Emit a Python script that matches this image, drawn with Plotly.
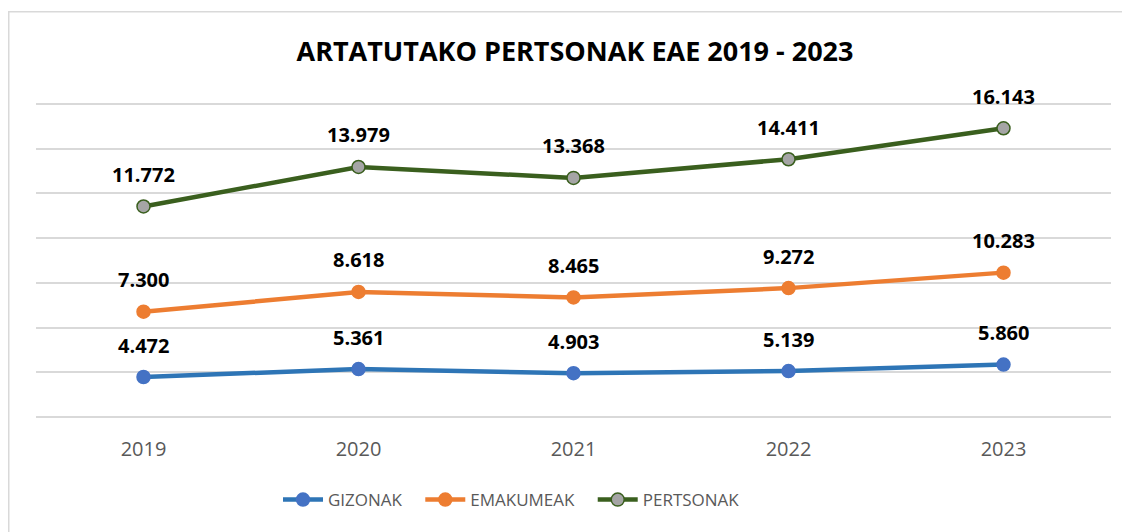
import plotly.graph_objects as go
import numpy as np

years = ["2019", "2020", "2021", "2022", "2023"]
gizonak = [4472, 5361, 4903, 5139, 5860]
emakumeak = [7300, 8618, 8465, 9272, 10283]
pertsonak = [11772, 13979, 13368, 14411, 16143]

series = [
    ("GIZONAK", gizonak, "#2E75B6", "#4472C4", "#4472C4"),
    ("EMAKUMEAK", emakumeak, "#ED7D31", "#ED7D31", "#ED7D31"),
    ("PERTSONAK", pertsonak, "#3A5F1E", "#A5A5A5", "#3A5F1E"),
]

def fmt(v):
    return f"{v:,}".replace(",", ".")

NB = "\u00a0" * 3

fig = go.Figure()
cum = np.zeros(len(years))
annotations = []
for name, vals, lc, mfill, mline in series:
    fig.add_trace(go.Scatter(
        x=years, y=vals, name=name + NB, mode="lines+markers",
        stackgroup="one", fill="none",
        line=dict(color=lc, width=4.5),
        marker=dict(size=13, color=mfill, line=dict(color=mline, width=1.5)),
    ))
    cum = cum + np.array(vals)
    for i, (yv, v) in enumerate(zip(cum, vals)):
        annotations.append(dict(
            x=i, y=float(yv), xref="x", yref="y", text="<b>" + fmt(v) + "</b>",
            showarrow=False, yshift=32, yanchor="middle",
            font=dict(family="Open Sans", size=20, color="#000000"),
        ))

# the page places the figure 8px from the window's top-left corner
OFF = 8
W, H = 1130 - OFF, 532 - OFF
YMAX = 35000
TOP_PAGE, BOT_PAGE = 104.3, 417.0     # page y of 35000 and 0
PAD = 10                              # px of padding so edge gridlines are drawn
upp = YMAX / (BOT_PAGE - TOP_PAGE)
L, R = 36 - OFF, 19
T = TOP_PAGE - PAD - OFF
B = H - (BOT_PAGE + PAD - OFF)
pw, ph = W - L - R, H - T - B
plot_bottom_page = BOT_PAGE + PAD

fig.update_layout(
    width=W, height=H,
    margin=dict(l=L, r=R, t=T, b=B, autoexpand=False),
    paper_bgcolor="white", plot_bgcolor="white",
    title=dict(text="<b>ARTATUTAKO PERTSONAK EAE 2019 - 2023</b>",
               x=(575 - OFF - L) / pw, xref="paper", xanchor="center",
               y=1 - (52 - OFF) / H, yanchor="middle",
               font=dict(family="Open Sans", size=27, color="#000000")),
    xaxis=dict(type="category", range=[-0.5, 4.5], showgrid=False,
               showline=False, zeroline=False, ticks="",
               tickfont=dict(family="Open Sans", size=20, color="#595959"),
               ticklabelstandoff=8),
    yaxis=dict(range=[-PAD * upp, YMAX + PAD * upp], tick0=0, dtick=5000,
               showticklabels=False, gridcolor="#D9D9D9", gridwidth=1.5,
               zeroline=False, showline=False),
    showlegend=True,
    legend=dict(orientation="h", x=(278 - 36) / pw, xanchor="left",
                y=(plot_bottom_page - 500) / ph, yanchor="middle",
                font=dict(family="Open Sans", size=17, color="#595959"),
                itemwidth=40, traceorder="normal"),
    annotations=annotations,
    shapes=[dict(type="rect", xref="paper", yref="paper",
                 x0=(0.75 - L) / pw, x1=1.2, y0=-0.6,
                 y1=(plot_bottom_page - 12) / ph,
                 line=dict(color="#D9D9D9", width=1.5), fillcolor="rgba(0,0,0,0)",
                 layer="below")],
)

fig.write_html("out.html")
